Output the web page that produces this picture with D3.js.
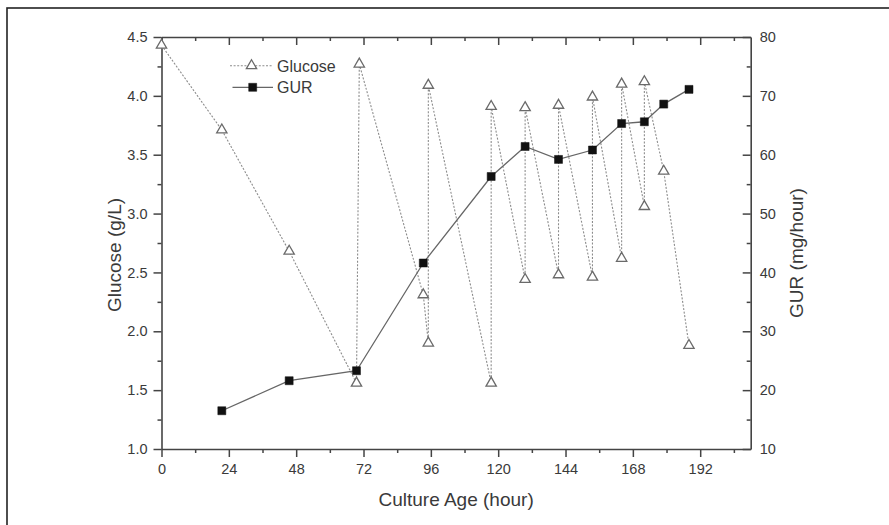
<!DOCTYPE html>
<html>
<head>
<meta charset="utf-8">
<script src="https://cdn.jsdelivr.net/npm/d3@7"></script>
<style>
  html, body { margin: 0; padding: 0; background: #fff; }
  svg { display: block; font-family: "Liberation Sans", Arial, sans-serif; }
</style>
</head>
<body>
<svg id="chart" width="889" height="525"></svg>
<script>
// ---- data ----
const glucoseHours  = [0, 21.5, 45.5, 69.5, 70.5, 93.3, 95.1, 95.1, 117.5, 117.5, 129.6, 129.6, 141.5, 141.5, 153.6, 153.6, 164, 164, 172.1, 172.1, 179, 188];
const glucoseValues = [4.43, 3.71, 2.68, 1.56, 4.27, 2.31, 1.90, 4.09, 1.56, 3.91, 2.44, 3.90, 2.48, 3.92, 2.46, 3.99, 2.62, 4.10, 3.06, 4.12, 3.36, 1.88];
const gurHours  = [21.5, 45.5, 69.5, 93.3, 117.5, 129.6, 141.5, 153.6, 164, 172.1, 179, 188];
const gurValues = [16.5, 21.6, 23.3, 41.6, 56.3, 61.4, 59.2, 60.8, 65.3, 65.6, 68.6, 71.1];
const xTicks = [0, 24, 48, 72, 96, 120, 144, 168, 192];
const yLeftTicks = [1.0, 1.5, 2.0, 2.5, 3.0, 3.5, 4.0, 4.5];
const yRightTicks = [10, 20, 30, 40, 50, 60, 70, 80];
const seriesNames = ["Glucose", "GUR"];
const xTitle = "Culture Age (hour)";
const yLeftTitle = "Glucose (g/L)";
const yRightTitle = "GUR (mg/hour)";

// ---- layout ----
const svg = d3.select("#chart");
const L = 161.5, R = 750.7, T = 37, B = 449;
const axisColor = "#444";
const textColor = "#3a3a3a";

// outer frame (only top & left visible)
svg.append("rect").attr("x", 7).attr("y", 8).attr("width", 1000).attr("height", 1000)
  .attr("fill", "none").attr("stroke", "#222").attr("stroke-width", 1.6);

const x = d3.scaleLinear().domain([0, 210]).range([L, R]);
const yL = d3.scaleLinear().domain([1.0, 4.5]).range([B, T]);
const yR = d3.scaleLinear().domain([10, 80]).range([B, T]);

const xMinor = d3.range(0, 211, 12).filter(v => v % 24 !== 0);
const yLMinor = d3.range(1.25, 4.5, 0.5);
const yRMinor = d3.range(15, 80, 10);

function styleAxis(g) {
  g.selectAll(".domain").attr("stroke", axisColor).attr("stroke-width", 1.6);
  g.selectAll(".tick line").attr("stroke", axisColor).attr("stroke-width", 1.5);
  g.selectAll(".tick text").attr("fill", textColor).style("font-size", "14.5px")
    .style("font-family", "'Liberation Sans', Arial, sans-serif");
}

// bottom axis
const gB = svg.append("g").attr("transform", `translate(0,${B})`)
  .call(d3.axisBottom(x).tickValues(xTicks).tickFormat(d3.format("d")).tickSize(8).tickPadding(7).tickSizeOuter(0));
styleAxis(gB);
svg.append("g").attr("transform", `translate(0,${B})`)
  .call(d3.axisBottom(x).tickValues(xMinor).tickFormat("").tickSize(4).tickSizeOuter(0))
  .call(g => g.select(".domain").remove()).call(styleAxis);

// top axis (ticks inward)
const gT = svg.append("g").attr("transform", `translate(0,${T})`)
  .call(d3.axisTop(x).tickValues(xTicks).tickFormat("").tickSize(-8).tickSizeOuter(0));
styleAxis(gT);
svg.append("g").attr("transform", `translate(0,${T})`)
  .call(d3.axisTop(x).tickValues(xMinor).tickFormat("").tickSize(-4).tickSizeOuter(0))
  .call(g => g.select(".domain").remove()).call(styleAxis);

// left axis
const gL = svg.append("g").attr("transform", `translate(${L},0)`)
  .call(d3.axisLeft(yL).tickValues(yLeftTicks).tickFormat(d3.format(".1f")).tickSize(8).tickPadding(6).tickSizeOuter(0));
styleAxis(gL);
svg.append("g").attr("transform", `translate(${L},0)`)
  .call(d3.axisLeft(yL).tickValues(yLMinor).tickFormat("").tickSize(4).tickSizeOuter(0))
  .call(g => g.select(".domain").remove()).call(styleAxis);

// right axis (ticks inward)
const gR = svg.append("g").attr("transform", `translate(${R},0)`)
  .call(d3.axisRight(yR).tickValues(yRightTicks).tickFormat(d3.format("d")).tickSize(-8).tickPadding(9).tickSizeOuter(0));
styleAxis(gR);
svg.append("g").attr("transform", `translate(${R},0)`)
  .call(d3.axisRight(yR).tickValues(yRMinor).tickFormat("").tickSize(-4).tickSizeOuter(0))
  .call(g => g.select(".domain").remove()).call(styleAxis);

// titles
svg.append("text").attr("x", (L + R) / 2).attr("y", 506).attr("text-anchor", "middle")
  .attr("fill", textColor).style("font-size", "19px").text(xTitle);
svg.append("text").attr("transform", "translate(121,255) rotate(-90)").attr("text-anchor", "middle")
  .attr("fill", textColor).style("font-size", "19px").text(yLeftTitle);
svg.append("text").attr("transform", "translate(803,253) rotate(-90)").attr("text-anchor", "middle")
  .attr("fill", textColor).style("font-size", "19px").text(yRightTitle);

// series
const gluData = glucoseHours.map((h, i) => [h, glucoseValues[i]]);
const gurData = gurHours.map((h, i) => [h, gurValues[i]]);

const tri = d3.symbol().type(d3.symbolTriangle).size(46);
const sq = d3.symbol().type(d3.symbolSquare).size(64);

svg.append("path").datum(gluData)
  .attr("d", d3.line().x(d => x(d[0])).y(d => yL(d[1])))
  .attr("fill", "none").attr("stroke", "#8c8c8c").attr("stroke-width", 1.1)
  .attr("stroke-dasharray", "2,1.6");

svg.append("path").datum(gurData)
  .attr("d", d3.line().x(d => x(d[0])).y(d => yR(d[1])))
  .attr("fill", "none").attr("stroke", "#666").attr("stroke-width", 1.3);

svg.append("g").selectAll("path").data(gluData).join("path")
  .attr("transform", d => `translate(${x(d[0])},${yL(d[1])})`)
  .attr("d", tri).attr("fill", "#fff").attr("stroke", "#6a6a6a").attr("stroke-width", 1.3);

svg.append("g").selectAll("path").data(gurData).join("path")
  .attr("transform", d => `translate(${x(d[0])},${yR(d[1])})`)
  .attr("d", sq).attr("fill", "#111").attr("stroke", "#111").attr("stroke-width", 0.5);

// legend
const lg = svg.append("g");
lg.append("line").attr("x1", 230).attr("x2", 272).attr("y1", 65.7).attr("y2", 65.7)
  .attr("stroke", "#8c8c8c").attr("stroke-width", 1.1).attr("stroke-dasharray", "2,1.6");
lg.append("path").attr("transform", "translate(251.5,65.7)").attr("d", tri)
  .attr("fill", "#fff").attr("stroke", "#6a6a6a").attr("stroke-width", 1.3);
lg.append("text").attr("x", 277).attr("y", 71.5).attr("fill", textColor).style("font-size", "16px").text(seriesNames[0]);

lg.append("line").attr("x1", 232.5).attr("x2", 273).attr("y1", 87.3).attr("y2", 87.3)
  .attr("stroke", "#666").attr("stroke-width", 1.3);
lg.append("path").attr("transform", "translate(252.7,87.3)").attr("d", sq)
  .attr("fill", "#111").attr("stroke", "#111").attr("stroke-width", 0.5);
lg.append("text").attr("x", 277).attr("y", 93).attr("fill", textColor).style("font-size", "16px").text(seriesNames[1]);
</script>
</body>
</html>
